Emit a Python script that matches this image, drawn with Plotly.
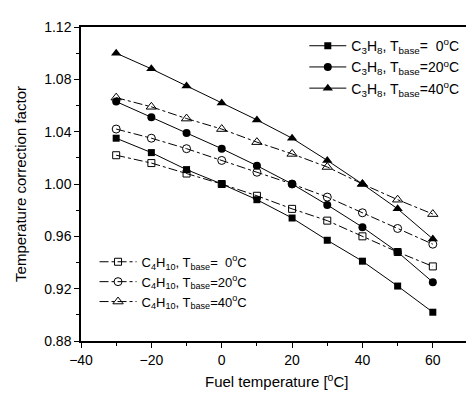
import plotly.graph_objects as go

temps = [-30, -20, -10, 0, 10, 20, 30, 40, 50, 60]

c3h8_0 = [1.035, 1.024, 1.011, 1.000, 0.988, 0.974, 0.957, 0.941, 0.922, 0.902]
c3h8_20 = [1.063, 1.051, 1.039, 1.027, 1.014, 1.000, 0.984, 0.967, 0.948, 0.925]
c3h8_40 = [1.100, 1.088, 1.075, 1.062, 1.049, 1.035, 1.018, 1.000, 0.981, 0.958]
c4h10_0 = [1.022, 1.016, 1.008, 1.000, 0.991, 0.981, 0.972, 0.960, 0.948, 0.937]
c4h10_20 = [1.042, 1.035, 1.027, 1.018, 1.009, 1.000, 0.990, 0.978, 0.966, 0.954]
c4h10_40 = [1.066, 1.059, 1.050, 1.042, 1.032, 1.023, 1.013, 1.000, 0.988, 0.977]

NB = "\u00a0"
names_c3 = [
    f"C<sub>3</sub>H<sub>8</sub>, T<sub>base</sub>={NB}{NB}0<sup>o</sup>C",
    "C<sub>3</sub>H<sub>8</sub>, T<sub>base</sub>=20<sup>o</sup>C",
    "C<sub>3</sub>H<sub>8</sub>, T<sub>base</sub>=40<sup>o</sup>C",
]
names_c4 = [
    f"C<sub>4</sub>H<sub>10</sub>, T<sub>base</sub>={NB}{NB}0<sup>o</sup>C",
    "C<sub>4</sub>H<sub>10</sub>, T<sub>base</sub>=20<sup>o</sup>C",
    "C<sub>4</sub>H<sub>10</sub>, T<sub>base</sub>=40<sup>o</sup>C",
]
x_title = "Fuel temperature [<sup>o</sup>C]"
y_title = "Temperature correction factor"

fig = go.Figure()

solid_sym = ["square", "circle", "triangle-up"]
open_sym = ["square-open", "circle-open", "triangle-up-open"]
sizes = [7, 8, 9]

for vals, name, sym, sz in zip([c3h8_0, c3h8_20, c3h8_40], names_c3, solid_sym, sizes):
    fig.add_trace(go.Scatter(
        x=temps, y=vals, name=name, mode="lines+markers",
        line=dict(color="black", width=1),
        marker=dict(symbol=sym, size=sz, color="black"),
        legend="legend",
    ))

for vals, name, sym, sz in zip([c4h10_0, c4h10_20, c4h10_40], names_c4, open_sym, sizes):
    fig.add_trace(go.Scatter(
        x=temps, y=vals, name=name, mode="lines+markers",
        line=dict(color="black", width=1, dash="dashdot"),
        marker=dict(symbol=sym, size=sz, color="black", line=dict(width=1, color="black")),
        legend="legend2",
    ))

font = dict(family="Liberation Sans, Arial, sans-serif", color="black")

fig.update_layout(
    width=474, height=399,
    margin=dict(l=73, r=14, t=19, b=66),
    paper_bgcolor="white", plot_bgcolor="white",
    font=dict(**font, size=14),
    legend=dict(x=0.577, y=0.99, xanchor="left", yanchor="top",
                font=dict(**font, size=14), bgcolor="rgba(0,0,0,0)",
                itemwidth=37, tracegroupgap=0),
    legend2=dict(x=0.035, y=0.30, xanchor="left", yanchor="top",
                 font=dict(**font, size=13), bgcolor="rgba(0,0,0,0)",
                 itemwidth=37, tracegroupgap=0),
    xaxis=dict(
        range=[-40, 70], dtick=20, tick0=-40,
        showgrid=False, zeroline=False, automargin=False,
        showline=True, linecolor="black", linewidth=1.5, mirror=True,
        ticks="outside", ticklen=5, tickwidth=1, tickcolor="black",
        minor=dict(ticks="outside", ticklen=3, dtick=10, tickcolor="black", showgrid=False),
        tickfont=dict(**font, size=14),
    ),
    yaxis=dict(
        range=[0.88, 1.12], dtick=0.04, tick0=0.88, tickformat=".2f",
        showgrid=False, zeroline=False, automargin=False,
        showline=True, linecolor="black", linewidth=1.5, mirror=True,
        ticks="outside", ticklen=5, tickwidth=1, tickcolor="black",
        minor=dict(ticks="outside", ticklen=3, dtick=0.02, tickcolor="black", showgrid=False),
        tickfont=dict(**font, size=14),
        title=dict(text=y_title, font=dict(**font, size=15), standoff=14),
    ),
    annotations=[dict(
        text=x_title, xref="paper", yref="paper", x=0.505, y=-0.125,
        xanchor="center", yanchor="middle", showarrow=False,
        font=dict(**font, size=15),
    )],
)

fig.write_html("out.html")
